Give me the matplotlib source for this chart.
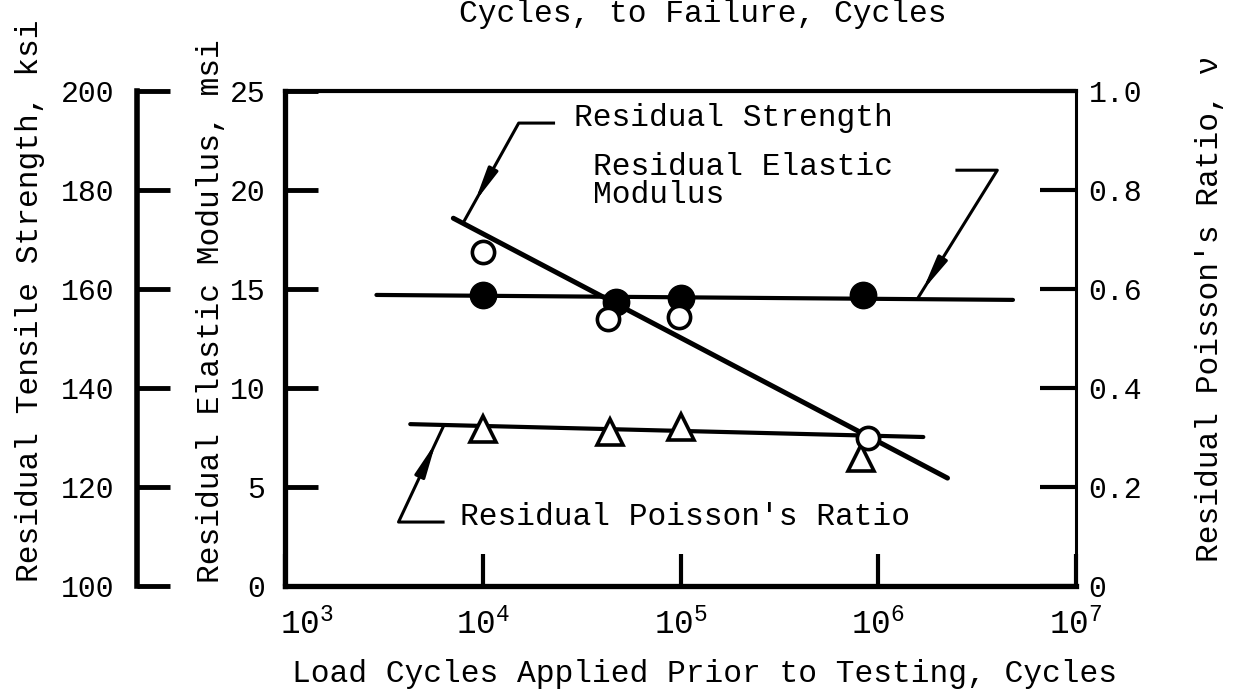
import numpy as np
import matplotlib
matplotlib.use('Agg')
import matplotlib.pyplot as plt
from matplotlib.ticker import NullLocator
from matplotlib.transforms import ScaledTranslation

# ---- data ----
# residual elastic modulus, msi (filled circles)
mod_cycles = [1.0e4, 4.7e4, 1.0e5, 8.4e5]
mod_vals = [14.7, 14.35, 14.55, 14.7]
mod_fit_cycles = [2.9e3, 4.8e6]
mod_fit_vals = [14.7, 14.45]

# residual tensile strength, ksi (open circles)
str_cycles = [1.0e4, 4.3e4, 9.8e4, 8.9e5]
str_vals = [167.5, 153.9, 154.3, 129.9]
str_fit_cycles = [7.1e3, 2.24e6]
str_fit_vals = [174.3, 121.8]

# residual poisson's ratio (triangles)
nu_cycles = [1.0e4, 4.4e4, 1.0e5, 8.2e5]
nu_vals = [0.317, 0.311, 0.321, 0.259]
nu_fit_cycles = [4.3e3, 1.69e6]
nu_fit_vals = [0.327, 0.301]

x_ticks = [1e3, 1e4, 1e5, 1e6, 1e7]
x_tick_labels = [r'$\mathregular{10^{%d}}$' % e for e in range(3, 8)]
mod_ticks = [0, 5, 10, 15, 20, 25]
str_ticks = [100, 120, 140, 160, 180, 200]
nu_ticks = [0, 0.2, 0.4, 0.6, 0.8, 1.0]
nu_tick_labels = ['0', '0.2', '0.4', '0.6', '0.8', '1.0']

# callouts: leader path (cycles, msi scale) from the fit line out to the label
callouts = [
    dict(text='Residual Strength', xy=(2.88e4, 23.64),
         path=[(8.0e3, 18.38), (1.52e4, 23.38), (2.28e4, 23.38)], head=(0.2, 0.38)),
    dict(text='Residual Elastic\nModulus', xy=(3.59e4, 20.45),
         path=[(1.6e6, 14.6), (4.0e6, 21.0), (2.5e6, 21.0)], head=(0.05, 0.21)),
    dict(text="Residual Poisson's Ratio", xy=(7.7e3, 3.48),
         path=[(6.3e3, 8.03), (3.75e3, 3.23), (6.3e3, 3.23)], head=(0.16, 0.36)),
]

FONT = 'Liberation Mono'
plt.rcParams.update({
    'font.family': FONT,
    'font.size': 22.5,
    'mathtext.fontset': 'custom',
    'mathtext.rm': FONT,
})

fig = plt.figure(figsize=(12.35, 6.9), dpi=100)
ax = fig.add_axes([285 / 1235, 104 / 690, 791 / 1235, 495 / 690])
ax2 = ax.twinx()   # poisson's ratio, right
ax3 = ax.twinx()   # tensile strength, far left

# ---- main axis: modulus ----
ax.set_xscale('log')
ax.set_xlim(1e3, 1e7)
ax.set_ylim(0, 25)
ax.set_xticks(x_ticks)
ax.set_xticklabels(x_tick_labels)
ax.xaxis.set_minor_locator(NullLocator())
ax.set_yticks(mod_ticks)
ax.set_yticklabels([str(t) for t in mod_ticks])
ax.tick_params(axis='y', direction='in', length=24, width=3.5, pad=14, labelsize=21.5)
ax.tick_params(axis='x', direction='in', length=23, width=3, pad=16, labelsize=23.5)
for side, lw in [('left', 3.8), ('bottom', 3.8), ('top', 3.0), ('right', 2.2)]:
    ax.spines[side].set_linewidth(lw)
# push the 10^3 label clear of the corner
lab0 = ax.get_xticklabels()[0]
lab0.set_transform(lab0.get_transform() + ScaledTranslation(0.22, 0, fig.dpi_scale_trans))

ax.plot(mod_fit_cycles, mod_fit_vals, color='k', lw=3.0, solid_capstyle='round')
ax.plot(mod_cycles, mod_vals, 'o', color='k', ms=19, zorder=5)

# ---- right axis: poisson ----
ax2.set_ylim(0, 1.0)
ax2.set_yticks(nu_ticks)
ax2.set_yticklabels(nu_tick_labels)
ax2.tick_params(axis='y', direction='in', length=26, width=3, pad=9, labelsize=21.5)
for side in ['left', 'top', 'bottom', 'right']:
    ax2.spines[side].set_visible(False)
ax2.plot(nu_fit_cycles, nu_fit_vals, color='k', lw=3.0, solid_capstyle='round')
ax2.plot(nu_cycles, nu_vals, '^', mfc='white', mec='k', mew=2.6, ms=19, zorder=5)

# ---- far-left axis: strength ----
ax3.set_ylim(100, 200)
ax3.set_yticks(str_ticks)
ax3.set_yticklabels([str(t) for t in str_ticks])
ax3.yaxis.set_ticks_position('left')
ax3.yaxis.set_label_position('left')
ax3.spines['left'].set_position(('axes', (137 - 285) / 791))
ax3.spines['left'].set_visible(True)
ax3.spines['left'].set_linewidth(4.0)
for side in ['top', 'bottom', 'right']:
    ax3.spines[side].set_visible(False)
ax3.tick_params(axis='y', direction='in', length=24, width=3.5, pad=16, labelsize=21.5)
ax3.plot(str_fit_cycles, str_fit_vals, color='k', lw=3.6, solid_capstyle='round')
ax3.plot(str_cycles, str_vals, 'o', mfc='white', mec='k', mew=2.6, ms=16, zorder=6)

# ---- callouts ----
for c in callouts:
    xs, ys = zip(*c['path'])
    ax.plot(xs, ys, color='k', lw=2.2, clip_on=False, zorder=4)
    (x0, y0), (x1, y1) = c['path'][0], c['path'][1]

    def at(t):
        return 10 ** (np.log10(x0) + t * (np.log10(x1) - np.log10(x0))), y0 + t * (y1 - y0)

    t_tip, t_tail = c['head']
    ax.annotate('', xy=at(t_tip), xytext=at(t_tail),
                arrowprops=dict(arrowstyle='-|>,head_length=0.9,head_width=0.14',
                                color='k', lw=2.2, shrinkA=0, shrinkB=0))
    ax.text(c['xy'][0], c['xy'][1], c['text'], ha='left', va='center',
            linespacing=0.9, fontsize=22.5)

# ---- axis titles ----
fig.text(30 / 1235, 108 / 690, 'Residual Tensile Strength, ksi',
         rotation=90, ha='center', va='bottom')
fig.text(211 / 1235, 107 / 690, 'Residual Elastic Modulus, msi',
         rotation=90, ha='center', va='bottom')
fig.text(1210 / 1235, 128 / 690, "Residual Poisson's Ratio, \u03bd",
         rotation=90, ha='center', va='bottom')
fig.text(704 / 1235, 8 / 690, 'Load Cycles Applied Prior to Testing, Cycles',
         ha='center', va='baseline')
fig.text(703 / 1235, 668 / 690, 'Cycles, to Failure, Cycles',
         ha='center', va='baseline')

fig.savefig('out.png', dpi=100)
